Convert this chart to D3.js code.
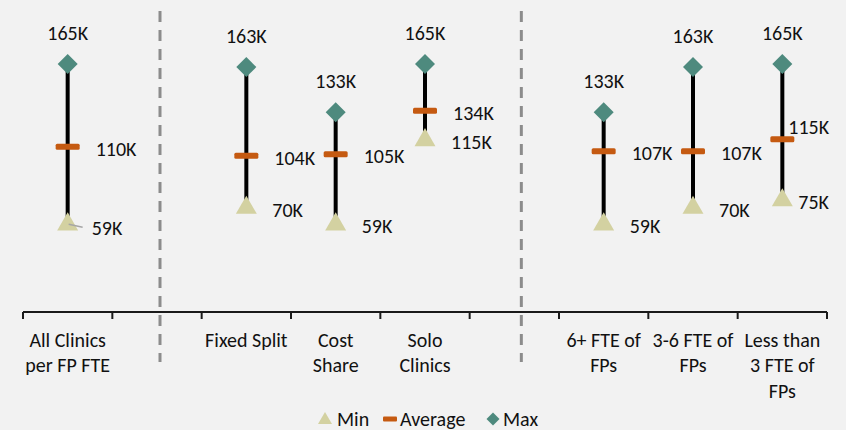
<!DOCTYPE html>
<html>
<head>
<meta charset="utf-8">
<script src="https://cdn.jsdelivr.net/npm/d3@7"></script>
<style>
  body { margin: 0; background: #f2f2f2; }
  svg { display: block; font-family: Carlito, Lato, sans-serif; }
</style>
</head>
<body>
<div id="chart"></div>
<script>
// data (values in thousands)
const categories = ['All Clinics\nper FP FTE', '', 'Fixed Split', 'Cost\nShare', 'Solo\nClinics', '', '6+ FTE of\nFPs', '3-6 FTE of\nFPs', 'Less than\n3 FTE of\nFPs'];
const minValues = [59, null, 70, 59, 115, null, 59, 70, 75];
const avgValues = [110, null, 104, 105, 134, null, 107, 107, 115];
const maxValues = [165, null, 163, 133, 165, null, 133, 163, 165];
const legendItems = ['Min', 'Average', 'Max'];

// settings
const width = 846;
const height = 430;
const margin = { top: 11.5, right: 19, bottom: 118, left: 23 };
const fontSize = 20;

const minColor = '#d3d1a1';
const avgColor = '#c55a11';
const maxColor = '#4e8a7e';

// empty slots that carry the dashed separators, with a small shift
const dividers = [{ slot: 1, dx: 3 }, { slot: 5, dx: 7 }];

// hand-moved labels, relative to their default place
const labelNudge = {
  0: { min: [-2, 2, true] },
  8: { avg: [-22, -14], min: [-10, 0] }
};

const svg = d3.select('#chart')
  .append('svg')
  .attr('width', width)
  .attr('height', height)
  .style('background', '#f2f2f2');

const x = d3.scaleBand()
  .domain(d3.range(categories.length))
  .range([margin.left, width - margin.right])
  .padding(0);

const y = d3.scaleLinear()
  .domain([0, 200])
  .range([height - margin.bottom, margin.top]);

const cx = i => x(i) + x.bandwidth() / 2;

// dashed separators
svg.append('g')
  .selectAll('line')
  .data(dividers)
  .join('line')
  .attr('x1', d => cx(d.slot) + d.dx)
  .attr('x2', d => cx(d.slot) + d.dx)
  .attr('y1', 11)
  .attr('y2', 362)
  .attr('stroke', '#8c8c8c')
  .attr('stroke-width', 3)
  .attr('stroke-dasharray', '11 8');

// x axis
const xAxis = svg.append('g')
  .attr('transform', `translate(0, ${y(0)})`);
const axisPath = d3.path();
axisPath.moveTo(margin.left, 0);
axisPath.lineTo(width - margin.right, 0);
xAxis.append('path')
  .attr('d', axisPath.toString())
  .attr('stroke', '#1a1a1a')
  .attr('stroke-width', 2)
  .attr('fill', 'none');
xAxis.selectAll('line.tick')
  .data(d3.range(categories.length + 1))
  .join('line')
  .attr('class', 'tick')
  .attr('x1', i => margin.left + i * x.step())
  .attr('x2', i => margin.left + i * x.step())
  .attr('y1', 0)
  .attr('y2', 7)
  .attr('stroke', '#1a1a1a')
  .attr('stroke-width', 2);

const tickText = xAxis.selectAll('text')
  .data(categories)
  .join('text')
  .attr('text-anchor', 'middle')
  .attr('font-size', fontSize)
  .attr('fill', '#111')
  .attr('transform', (d, i) => `translate(${cx(i)}, 34.5)`);
tickText.selectAll('tspan')
  .data(d => d.split('\n').filter(s => s))
  .join('tspan')
  .attr('x', 0)
  .attr('y', (d, j) => j * 25.8)
  .text(d => d);

// rows of points
const rows = categories.map((c, i) => ({ i, min: minValues[i], avg: avgValues[i], max: maxValues[i] }))
  .filter(d => d.min != null);

const fmt = v => v + 'K';

const marks = svg.append('g');

// high-low line
marks.selectAll('line.range')
  .data(rows)
  .join('line')
  .attr('class', 'range')
  .attr('x1', d => cx(d.i))
  .attr('x2', d => cx(d.i))
  .attr('y1', d => y(d.max))
  .attr('y2', d => y(d.min))
  .attr('stroke', '#000')
  .attr('stroke-width', 4);

// min triangles
const tri = d3.symbol().type(d3.symbolTriangle).size(190);
marks.selectAll('path.min')
  .data(rows)
  .join('path')
  .attr('class', 'min')
  .attr('d', tri)
  .attr('transform', d => `translate(${cx(d.i)}, ${y(d.min) + 1})`)
  .attr('fill', minColor);

// average dashes
marks.selectAll('rect.avg')
  .data(rows)
  .join('rect')
  .attr('class', 'avg')
  .attr('x', d => cx(d.i) - 12)
  .attr('y', d => y(d.avg) - 3)
  .attr('width', 24)
  .attr('height', 6)
  .attr('rx', 1.5)
  .attr('fill', avgColor);

// max diamonds
const diamond = d3.symbol().type(d3.symbolSquare).size(200);
marks.selectAll('path.max')
  .data(rows)
  .join('path')
  .attr('class', 'max')
  .attr('d', diamond)
  .attr('transform', d => `translate(${cx(d.i)}, ${y(d.max)}) rotate(45)`)
  .attr('fill', maxColor);

// labels
const labels = svg.append('g')
  .attr('font-size', fontSize)
  .attr('fill', '#111');

labels.selectAll('text.maxl')
  .data(rows)
  .join('text')
  .attr('class', 'maxl')
  .attr('text-anchor', 'middle')
  .attr('x', d => cx(d.i))
  .attr('y', d => y(d.max) - 31)
  .attr('dy', '0.35em')
  .text(d => fmt(d.max));

const nudge = (d, key) => (labelNudge[d.i] && labelNudge[d.i][key]) || [0, 0];

labels.selectAll('text.avgl')
  .data(rows)
  .join('text')
  .attr('class', 'avgl')
  .attr('x', d => cx(d.i) + 28 + nudge(d, 'avg')[0])
  .attr('y', d => y(d.avg) + 2 + nudge(d, 'avg')[1])
  .attr('dy', '0.35em')
  .text(d => fmt(d.avg));

labels.selectAll('text.minl')
  .data(rows)
  .join('text')
  .attr('class', 'minl')
  .attr('x', d => cx(d.i) + 26 + nudge(d, 'min')[0])
  .attr('y', d => y(d.min) + 3 + nudge(d, 'min')[1])
  .attr('dy', '0.35em')
  .text(d => fmt(d.min));

// leader line for a moved label
svg.append('g')
  .selectAll('line')
  .data(rows.filter(d => nudge(d, 'min')[2]))
  .join('line')
  .attr('x1', d => cx(d.i) + 1)
  .attr('y1', d => y(d.min) + 1)
  .attr('x2', d => cx(d.i) + 15)
  .attr('y2', d => y(d.min) + 4)
  .attr('stroke', '#a6a6a6')
  .attr('stroke-width', 1.5);

// legend
const legendX = [318, 383, 486];
const legend = svg.append('g')
  .attr('transform', 'translate(0, 419)');
const item = legend.selectAll('g')
  .data(legendItems)
  .join('g')
  .attr('transform', (d, i) => `translate(${legendX[i]}, 0)`);

item.filter(d => d === 'Min').append('path')
  .attr('d', d3.symbol().type(d3.symbolTriangle).size(85))
  .attr('transform', 'translate(7, 1)')
  .attr('fill', minColor);
item.filter(d => d === 'Average').append('rect')
  .attr('x', 0)
  .attr('y', -2.5)
  .attr('width', 14)
  .attr('height', 5)
  .attr('rx', 1)
  .attr('fill', avgColor);
item.filter(d => d === 'Max').append('path')
  .attr('d', d3.symbol().type(d3.symbolSquare).size(85))
  .attr('transform', 'translate(7, 0) rotate(45)')
  .attr('fill', maxColor);

item.append('text')
  .attr('x', (d, i) => [19, 17, 17][i])
  .attr('dy', '0.35em')
  .attr('font-size', fontSize)
  .attr('fill', '#111')
  .text(d => d);
</script>
</body>
</html>
